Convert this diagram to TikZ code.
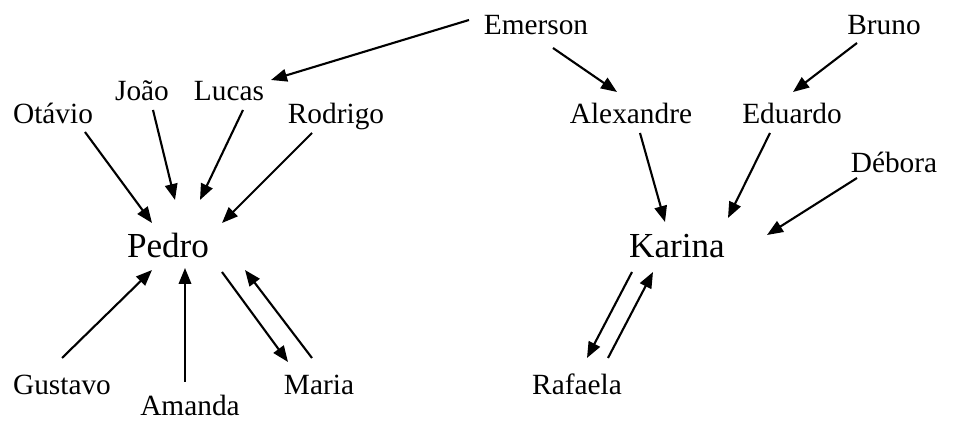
\documentclass[tikz,border=0pt]{standalone}
\usepackage{fontspec}
\setmainfont{Liberation Serif}
\usetikzlibrary{arrows.meta}

\begin{document}
\begin{tikzpicture}[x=0.02cm,y=-0.02cm,
  person/.style={anchor=base,inner sep=0pt,font=\fontsize{16.7}{20}\selectfont},
  hub/.style={anchor=base,inner sep=0pt,font=\fontsize{20}{24}\selectfont},
  link/.style={-{Triangle[length=0.32cm,width=0.25cm]},line width=1.2pt}]
\useasboundingbox (0,0) rectangle (964,421);
% left group
\node[hub] (pedro) at (168,258) {Pedro};
\node[person] (otavio) at (53,124) {Otávio};
\node[person] (joao) at (142,101) {João};
\node[person] (lucas) at (229,101) {Lucas};
\node[person] (rodrigo) at (336,124) {Rodrigo};
\node[person] (gustavo) at (62,395) {Gustavo};
\node[person] (amanda) at (190,416) {Amanda};
\node[person] (maria) at (319,395) {Maria};
% right group
\node[hub] (karina) at (677,258) {Karina};
\node[person] (emerson) at (536,35) {Emerson};
\node[person] (bruno) at (884,35) {Bruno};
\node[person] (alexandre) at (631,124) {Alexandre};
\node[person] (eduardo) at (792,124) {Eduardo};
\node[person] (debora) at (894,173) {Débora};
\node[person] (rafaela) at (577,395) {Rafaela};

\draw[link] ([shift={(-67,-15)}]emerson.base) -- ([shift={(42,-21)}]lucas.base);
\draw[link] ([shift={(32,8)}]otavio.base) -- ([shift={(-16,-35)}]pedro.base);
\draw[link] ([shift={(11,9)}]joao.base) -- ([shift={(7,-58)}]pedro.base);
\draw[link] ([shift={(14,9)}]lucas.base) -- ([shift={(32,-58)}]pedro.base);
\draw[link] ([shift={(-24,9)}]rodrigo.base) -- ([shift={(54,-35)}]pedro.base);
\draw[link] ([shift={(0,-37)}]gustavo.base) -- ([shift={(-16,12)}]pedro.base);
\draw[link] ([shift={(-5,-34)}]amanda.base) -- ([shift={(17,10)}]pedro.base);
\draw[link] ([shift={(54,14)}]pedro.base) -- ([shift={(-31,-33)}]maria.base);
\draw[link] ([shift={(-7,-37)}]maria.base) -- ([shift={(77,12)}]pedro.base);

\draw[link] ([shift={(17,13)}]emerson.base) -- ([shift={(-14,-32)}]alexandre.base);
\draw[link] ([shift={(-27,8)}]bruno.base) -- ([shift={(1,-32)}]eduardo.base);
\draw[link] ([shift={(9,9)}]alexandre.base) -- ([shift={(-12,-36)}]karina.base);
\draw[link] ([shift={(-22,9)}]eduardo.base) -- ([shift={(51,-40)}]karina.base);
\draw[link] ([shift={(-37,5)}]debora.base) -- ([shift={(90,-23)}]karina.base);
\draw[link] ([shift={(-45,14)}]karina.base) -- ([shift={(10,-37)}]rafaela.base);
\draw[link] ([shift={(31,-37)}]rafaela.base) -- ([shift={(-24,14)}]karina.base);
\end{tikzpicture}
\end{document}
